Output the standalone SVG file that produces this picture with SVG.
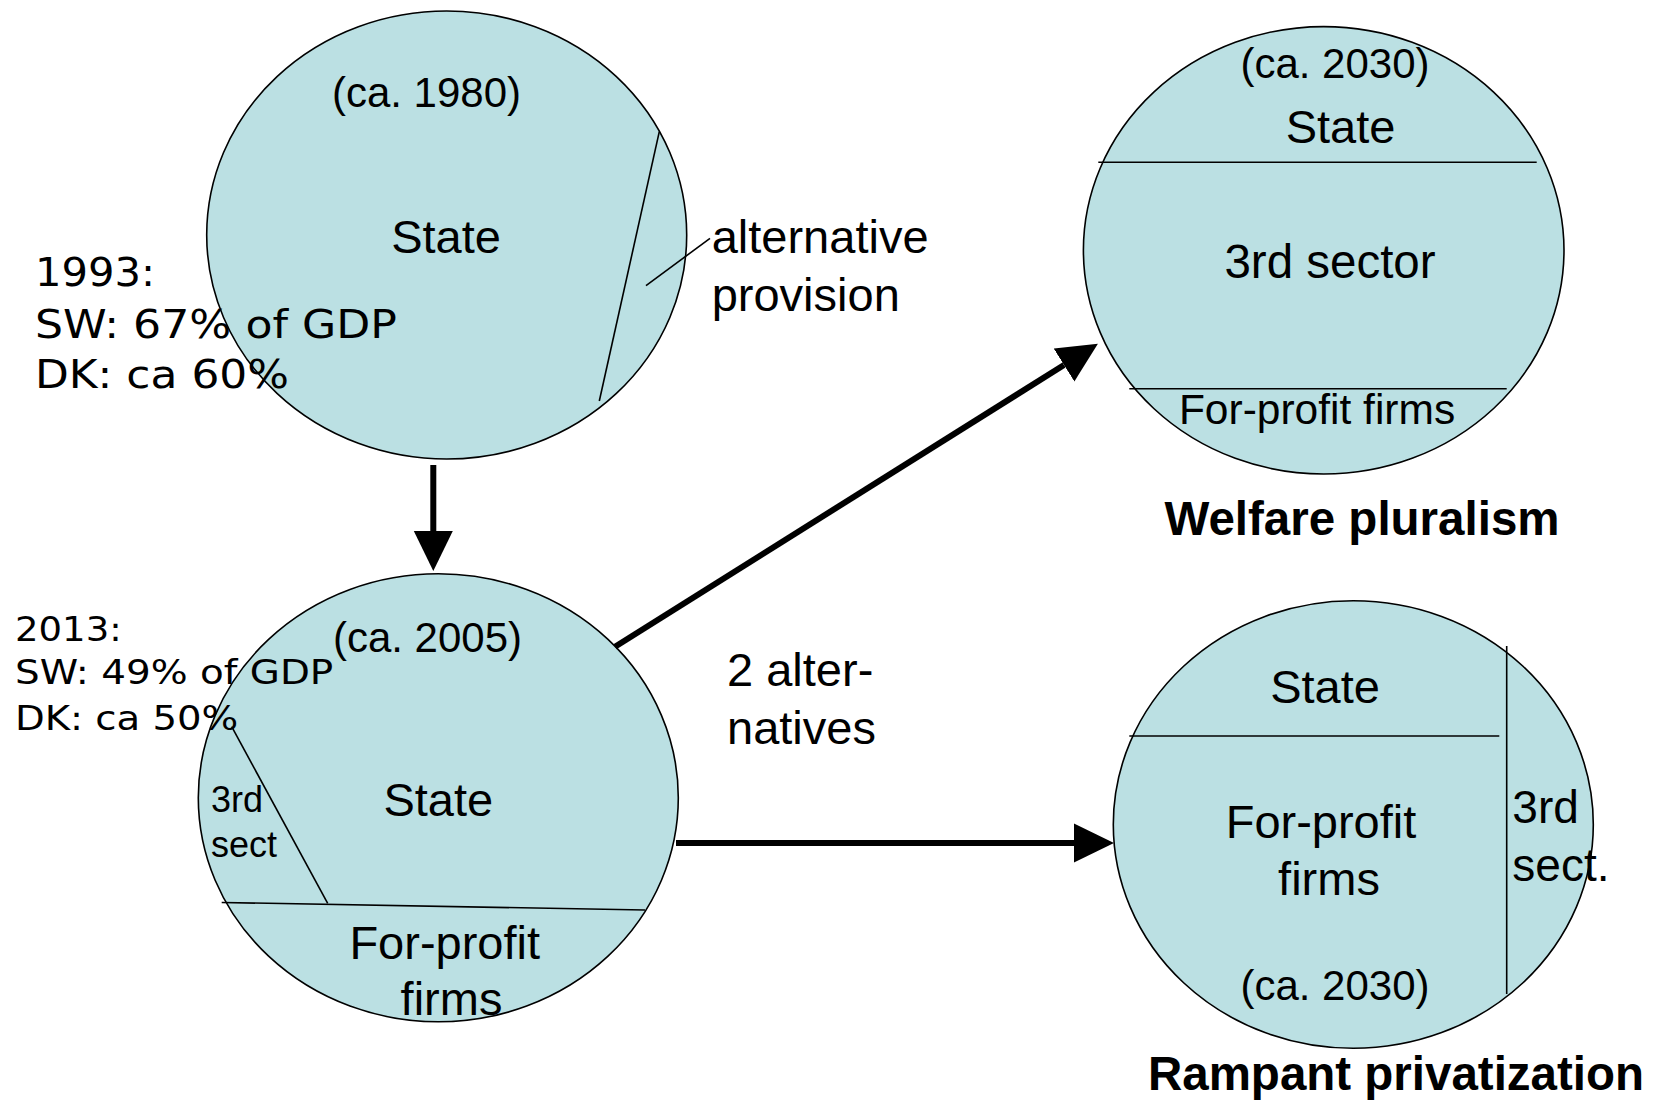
<svg xmlns="http://www.w3.org/2000/svg" width="1653" height="1103" viewBox="0 0 1653 1103">
<style>
.c{fill:#BBE0E3;stroke:#000;stroke-width:1.6}
.d{stroke:#000;stroke-width:1.6;fill:none}
.t{font-family:"Liberation Sans",Arial,sans-serif;fill:#000}
.m{text-anchor:middle}
.v{font-family:"DejaVu Sans",Verdana,sans-serif;fill:#000}
.b{font-family:"Liberation Sans",Arial,sans-serif;font-weight:bold;fill:#000;text-anchor:middle;font-size:47.5px}
.a{stroke:#000;stroke-width:6;fill:none;marker-end:url(#ah)}
</style>
<defs>
<marker id="ah" markerUnits="userSpaceOnUse" viewBox="0 0 40 40" markerWidth="40" markerHeight="40" refX="0" refY="20" orient="auto">
<path d="M0,0.5 L40,20 L0,39.5 z" fill="#000"/>
</marker>
</defs>
<rect width="1653" height="1103" fill="#fff"/>

<g id="node-1980">
<ellipse class="c" cx="446.7" cy="235" rx="240" ry="224"/>
<line class="d" x1="659.3" y1="131.7" x2="599.3" y2="401"/>
<line class="d" x1="646" y1="285.7" x2="710" y2="238.3"/>
<text class="t m" x="426.5" y="107" font-size="42">(ca. 1980)</text>
<text class="t m" x="446" y="253.3" font-size="47">State</text>
<text class="t" x="711.7" y="253.3" font-size="47">alternative</text>
<text class="t" x="711.7" y="310.7" font-size="47">provision</text>
</g>

<g id="note-1993">
<text class="v" x="35" y="286" font-size="39" textLength="120" lengthAdjust="spacingAndGlyphs">1993:</text>
<text class="v" x="35" y="338.3" font-size="39" textLength="362" lengthAdjust="spacingAndGlyphs">SW: 67% of GDP</text>
<text class="v" x="35" y="388.3" font-size="39" textLength="254" lengthAdjust="spacingAndGlyphs">DK: ca 60%</text>
</g>

<g id="node-2005">
<ellipse class="c" cx="438.3" cy="797.8" rx="240" ry="224"/>
<line class="d" x1="221.7" y1="902.5" x2="645" y2="910"/>
<line class="d" x1="231.7" y1="726.7" x2="327.7" y2="903.3"/>
<text class="t m" x="427.5" y="651.7" font-size="42">(ca. 2005)</text>
<text class="t m" x="438.3" y="816" font-size="47">State</text>
<text class="t" x="211" y="812.3" font-size="36">3rd</text>
<text class="t" x="211" y="857.3" font-size="36">sect</text>
<text class="t m" x="444.7" y="959.3" font-size="47">For-profit</text>
<text class="t m" x="451.5" y="1015" font-size="47">firms</text>
</g>

<g id="note-2013">
<text class="v" x="15" y="640.7" font-size="34.4" textLength="106.7" lengthAdjust="spacingAndGlyphs">2013:</text>
<text class="v" x="15" y="684.3" font-size="34.4" textLength="318.3" lengthAdjust="spacingAndGlyphs">SW: 49% of GDP</text>
<text class="v" x="15" y="730" font-size="34.4" textLength="223.3" lengthAdjust="spacingAndGlyphs">DK: ca 50%</text>
</g>

<g id="node-welfare-pluralism">
<ellipse class="c" cx="1323.7" cy="250.3" rx="240.3" ry="223.7"/>
<line class="d" x1="1098.3" y1="162.3" x2="1536.7" y2="162.3"/>
<line class="d" x1="1129.3" y1="388.7" x2="1506.7" y2="388.7"/>
<text class="t m" x="1335" y="78.3" font-size="42">(ca. 2030)</text>
<text class="t m" x="1340.5" y="143.3" font-size="47">State</text>
<text class="t m" x="1330" y="278.3" font-size="47.5">3rd sector</text>
<text class="t m" x="1317" y="424" font-size="42.5">For-profit firms</text>
<text class="b" x="1362" y="535">Welfare pluralism</text>
</g>

<g id="node-rampant-privatization">
<ellipse class="c" cx="1353.3" cy="824.5" rx="240" ry="223.8"/>
<line class="d" x1="1129.3" y1="736" x2="1499.3" y2="736"/>
<line class="d" x1="1506.7" y1="646" x2="1506.7" y2="994"/>
<text class="t m" x="1325" y="702.7" font-size="47">State</text>
<text class="t m" x="1321" y="838.3" font-size="47">For-profit</text>
<text class="t m" x="1329" y="895" font-size="47">firms</text>
<text class="t m" x="1335" y="1000" font-size="42">(ca. 2030)</text>
<text class="t" x="1512.3" y="823.3" font-size="46">3rd</text>
<text class="t" x="1512.3" y="880.7" font-size="46">sect.</text>
<text class="b" x="1396" y="1090">Rampant privatization</text>
</g>

<g id="connectors">
<line class="a" x1="433.3" y1="465" x2="433.3" y2="531"/>
<line class="a" x1="615" y1="646.7" x2="1064" y2="365"/>
<line class="a" x1="676" y1="843" x2="1074" y2="843"/>
<text class="t" x="727" y="686" font-size="47">2 alter-</text>
<text class="t" x="727" y="744" font-size="47">natives</text>
</g>
</svg>
